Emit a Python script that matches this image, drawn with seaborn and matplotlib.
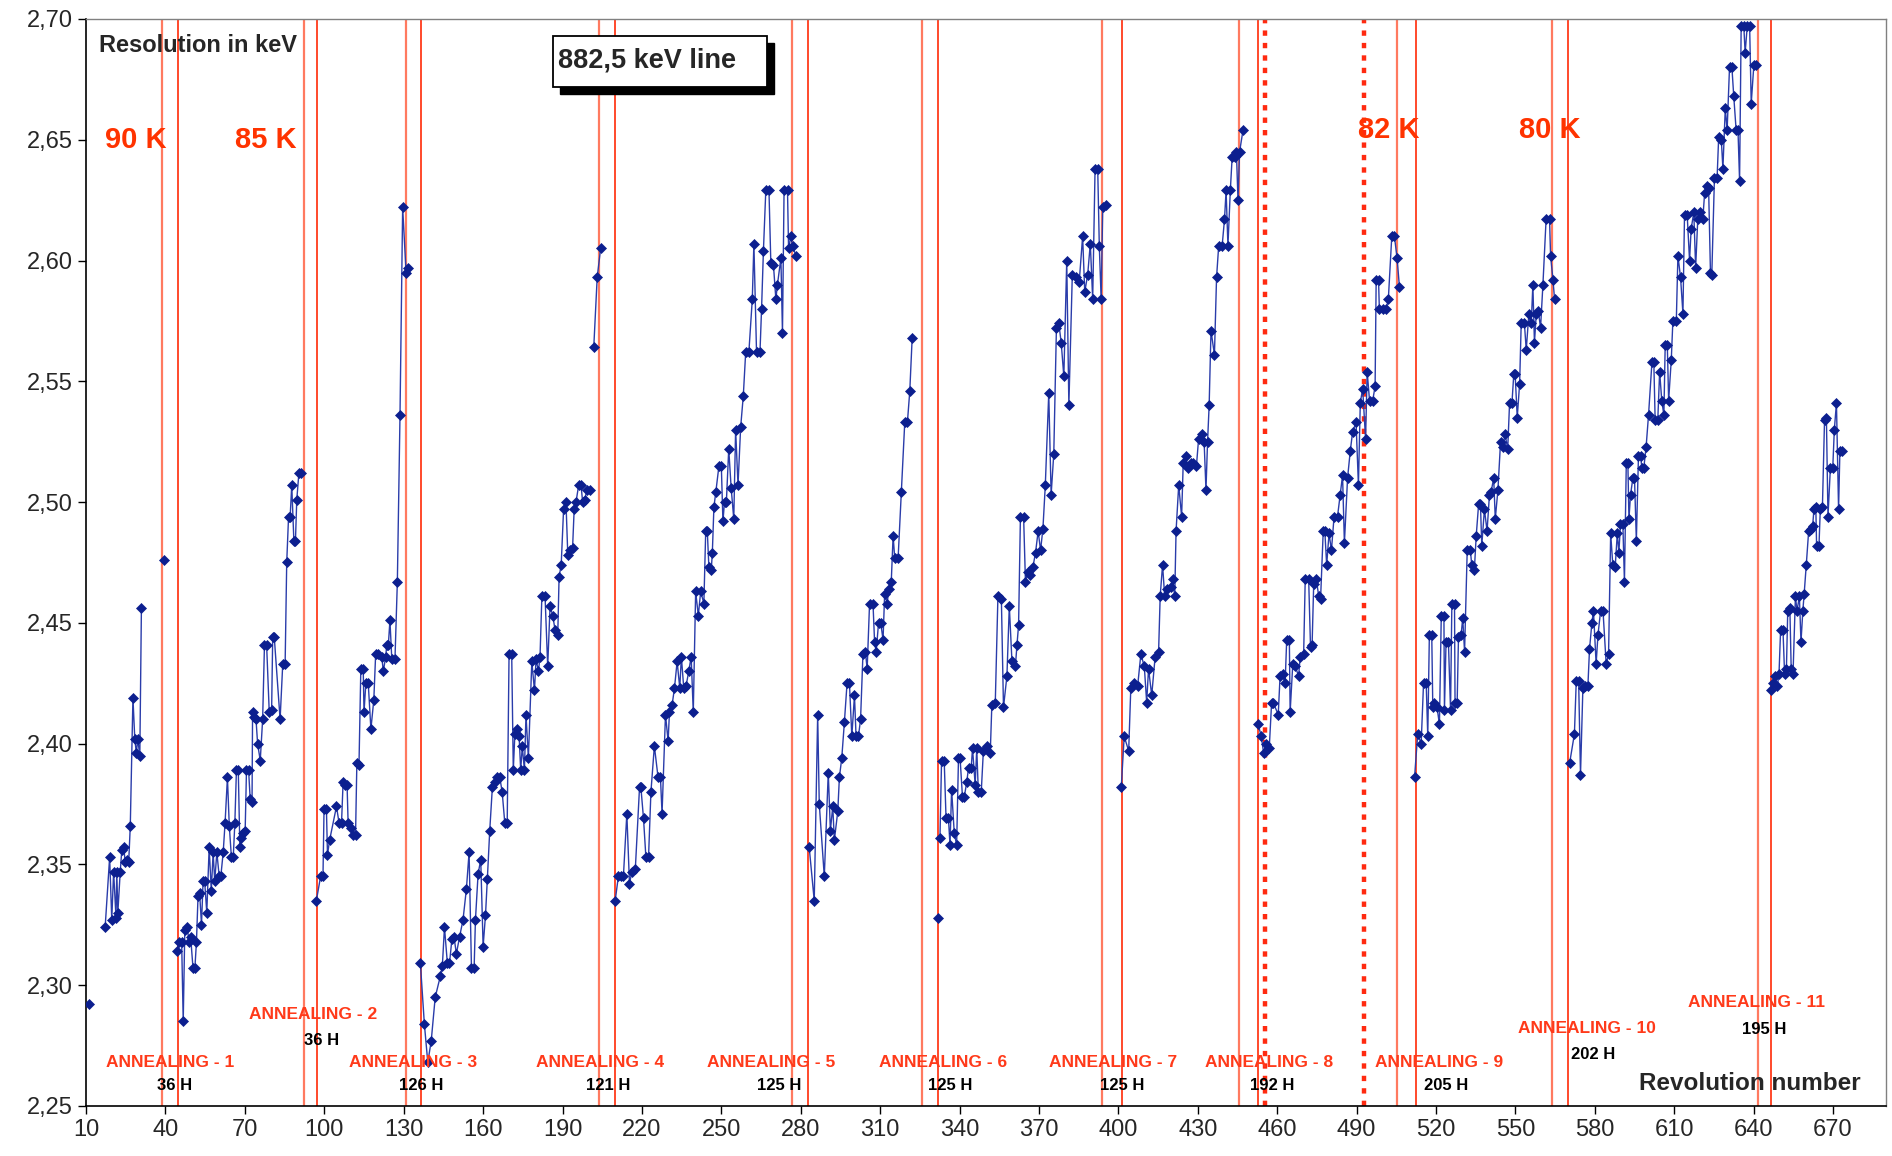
import numpy as np
import pandas as pd
import matplotlib
matplotlib.use("Agg")
import matplotlib.pyplot as plt
from matplotlib.patches import Rectangle
from matplotlib.ticker import FuncFormatter
import seaborn as sns

# ================= DATA =================
# revolution number / resolution (keV), one list pair per unbroken run
s00_rev = [11.0]
s00_res = [2.292]

s01_rev = [17.2, 18.9, 19.7, 20.4, 21.3, 21.6, 22.0, 22.9, 23.5, 24.2, 24.8, 25.4, 26.1, 26.7,
           27.7, 28.4, 29.0, 29.5, 30.3, 30.9]
s01_res = [2.324, 2.353, 2.327, 2.347, 2.328, 2.347, 2.330, 2.347, 2.356, 2.357, 2.351, 2.352, 2.351, 2.366,
           2.419, 2.402, 2.396, 2.402, 2.395, 2.456]

s01b_rev = [39.3]
s01b_res = [2.476]

s02_rev = [44.4, 45.2, 46.1, 46.7, 47.3, 48.2, 48.9, 49.5, 50.4, 51.1, 51.7, 52.3, 52.9, 53.6, 54.2,
           54.8, 55.6, 56.5, 57.3, 58.0, 58.6, 59.4, 60.3, 60.9, 61.8, 62.5, 63.4, 64.1, 64.9, 65.6,
           66.2, 66.8, 67.5, 68.1, 68.7, 69.4, 70.1, 70.6, 71.4, 72.0, 72.7, 72.9, 73.6, 74.2, 74.8,
           75.8, 76.7, 77.4, 78.2, 79.2, 80.1, 80.5, 81.1, 83.3, 84.3, 85.2, 85.8, 86.5, 87.1, 87.7,
           88.5, 89.1, 89.6, 90.4, 91.3]
s02_res = [2.314, 2.318, 2.318, 2.285, 2.323, 2.324, 2.318, 2.320, 2.307, 2.307, 2.318, 2.337, 2.338, 2.325, 2.343,
           2.343, 2.330, 2.357, 2.339, 2.355, 2.343, 2.355, 2.345, 2.345, 2.355, 2.367, 2.386, 2.366, 2.353, 2.353,
           2.367, 2.389, 2.389, 2.357, 2.361, 2.363, 2.364, 2.389, 2.389, 2.377, 2.376, 2.413, 2.411, 2.410, 2.400,
           2.393, 2.410, 2.441, 2.441, 2.413, 2.414, 2.444, 2.444, 2.410, 2.433, 2.433, 2.475, 2.494, 2.494, 2.507,
           2.484, 2.484, 2.501, 2.512, 2.512]

s03_rev = [97.0, 98.6, 99.5, 99.9, 100.8, 101.2, 102.0, 104.6, 105.6, 106.5, 107.1, 107.7, 108.6, 109.0,
           110.0, 110.9, 111.8, 112.3, 113.1, 113.8, 114.7, 115.0, 115.7, 116.6, 117.6, 118.7, 119.4, 120.4,
           121.7, 122.3, 123.2, 123.6, 124.2, 124.8, 125.5, 126.7, 127.6, 128.6, 129.6, 130.9, 131.8]
s03_res = [2.335, 2.345, 2.345, 2.373, 2.373, 2.354, 2.360, 2.374, 2.367, 2.367, 2.384, 2.383, 2.383, 2.367,
           2.365, 2.362, 2.362, 2.392, 2.391, 2.431, 2.431, 2.413, 2.425, 2.425, 2.406, 2.418, 2.437, 2.437,
           2.436, 2.430, 2.436, 2.441, 2.441, 2.451, 2.435, 2.435, 2.467, 2.536, 2.622, 2.595, 2.597]

s04_rev = [136.3, 137.8, 139.1, 140.4, 141.9, 143.9, 144.6, 145.4, 146.5, 147.3, 148.2, 149.0, 149.9, 151.1,
           152.4, 153.7, 154.7, 155.6, 156.6, 157.1, 158.1, 159.1, 160.0, 160.9, 161.6, 162.5, 163.5, 164.4,
           165.4, 166.3, 167.2, 168.2, 169.1, 169.8, 170.8, 171.4, 172.0, 172.7, 173.6, 174.2, 174.8, 175.6,
           176.2, 177.1, 178.4, 179.4, 180.0, 180.9, 181.5, 182.2, 183.4, 184.4, 185.3, 186.3, 187.2, 188.2,
           188.7, 189.5, 190.4, 191.3, 192.0, 192.9, 193.8, 194.4, 195.1, 196.1, 197.0, 197.6, 198.4, 199.2,
           200.5]
s04_res = [2.309, 2.284, 2.268, 2.277, 2.295, 2.304, 2.308, 2.324, 2.309, 2.309, 2.319, 2.320, 2.313, 2.320,
           2.327, 2.340, 2.355, 2.307, 2.307, 2.327, 2.346, 2.352, 2.316, 2.329, 2.344, 2.364, 2.382, 2.384,
           2.386, 2.386, 2.380, 2.367, 2.367, 2.437, 2.437, 2.389, 2.404, 2.406, 2.403, 2.389, 2.399, 2.389,
           2.412, 2.394, 2.434, 2.422, 2.435, 2.430, 2.436, 2.461, 2.461, 2.432, 2.457, 2.453, 2.447, 2.445,
           2.469, 2.474, 2.497, 2.500, 2.478, 2.480, 2.481, 2.497, 2.500, 2.507, 2.507, 2.500, 2.501, 2.505,
           2.505]

s04b_rev = [201.8, 203.1, 204.4]
s04b_res = [2.564, 2.593, 2.605]

s05_rev = [209.9, 211.1, 212.0, 213.0, 214.3, 215.3, 216.2, 217.5, 219.1, 219.6, 220.6, 221.5, 222.5, 223.4,
           224.7, 226.1, 227.0, 227.6, 228.9, 229.9, 230.4, 231.4, 232.3, 233.3, 234.3, 234.9, 235.8, 236.7,
           237.7, 238.6, 239.4, 240.3, 241.3, 242.2, 243.4, 244.1, 244.7, 245.3, 246.2, 246.6, 247.2, 247.9,
           249.1, 250.0, 250.6, 251.2, 251.9, 252.8, 253.7, 254.7, 255.4, 256.3, 257.3, 258.3, 259.2, 260.4,
           261.7, 262.3, 263.3, 264.6, 265.2, 265.9, 266.8, 268.0, 268.7, 269.7, 270.6, 271.2, 272.5, 273.1,
           273.7, 275.0, 275.4, 276.3, 276.9, 278.2]
s05_res = [2.335, 2.345, 2.345, 2.345, 2.371, 2.342, 2.347, 2.348, 2.382, 2.382, 2.369, 2.353, 2.353, 2.380,
           2.399, 2.386, 2.386, 2.371, 2.412, 2.401, 2.413, 2.416, 2.423, 2.434, 2.423, 2.436, 2.423, 2.424,
           2.430, 2.436, 2.413, 2.463, 2.453, 2.463, 2.458, 2.488, 2.488, 2.473, 2.472, 2.479, 2.498, 2.504,
           2.515, 2.515, 2.492, 2.500, 2.500, 2.522, 2.506, 2.493, 2.530, 2.507, 2.531, 2.544, 2.562, 2.562,
           2.584, 2.607, 2.562, 2.562, 2.580, 2.604, 2.629, 2.629, 2.599, 2.598, 2.584, 2.590, 2.601, 2.570,
           2.629, 2.629, 2.605, 2.610, 2.606, 2.602]

s06_rev = [283.2, 285.1, 286.4, 287.0, 288.9, 290.4, 291.2, 292.1, 292.7, 294.0, 294.6, 295.5, 296.5, 297.5,
           298.4, 299.3, 300.3, 300.9, 301.8, 302.6, 303.5, 304.4, 305.1, 306.0, 307.3, 307.9, 308.5, 309.4,
           310.2, 311.1, 311.7, 312.7, 313.2, 314.2, 314.9, 315.5, 316.8, 318.0, 319.3, 320.3, 321.2, 322.1]
s06_res = [2.357, 2.335, 2.412, 2.375, 2.345, 2.388, 2.364, 2.374, 2.360, 2.372, 2.386, 2.394, 2.409, 2.425,
           2.425, 2.403, 2.420, 2.403, 2.403, 2.410, 2.437, 2.438, 2.431, 2.458, 2.458, 2.442, 2.438, 2.450,
           2.450, 2.443, 2.462, 2.458, 2.464, 2.467, 2.486, 2.477, 2.477, 2.504, 2.533, 2.533, 2.546, 2.568]

s07a_rev = [332.0]
s07a_res = [2.328]

s07_rev = [332.6, 333.2, 334.2, 334.9, 335.8, 336.4, 337.0, 338.0, 338.9, 339.6, 340.2, 341.1, 341.8, 342.7,
           343.4, 344.4, 344.9, 345.9, 346.5, 347.1, 348.2, 349.0, 350.3, 351.6, 352.2, 353.5, 354.5, 355.8,
           356.6, 357.9, 358.8, 359.8, 361.1, 361.7, 362.3, 363.0, 364.2, 364.9, 365.9, 366.8, 367.7, 368.7,
           369.7, 370.6, 371.5, 372.4, 373.7, 374.6, 375.6, 376.6, 377.5, 378.4, 379.4, 380.5, 381.3, 382.6,
           383.9, 385.2, 386.5, 387.3, 388.4, 389.4, 390.3, 391.2, 392.2, 392.8, 393.5, 394.1, 395.4]
s07_res = [2.361, 2.393, 2.393, 2.369, 2.369, 2.358, 2.381, 2.363, 2.358, 2.394, 2.394, 2.378, 2.378, 2.384,
           2.390, 2.390, 2.398, 2.383, 2.398, 2.380, 2.380, 2.397, 2.399, 2.396, 2.416, 2.417, 2.461, 2.460,
           2.415, 2.428, 2.457, 2.434, 2.432, 2.441, 2.449, 2.494, 2.494, 2.467, 2.471, 2.470, 2.473, 2.479,
           2.488, 2.480, 2.489, 2.507, 2.545, 2.503, 2.520, 2.572, 2.574, 2.566, 2.552, 2.600, 2.540, 2.594,
           2.593, 2.591, 2.610, 2.587, 2.594, 2.607, 2.584, 2.638, 2.638, 2.606, 2.584, 2.622, 2.623]

s08_rev = [401.1, 402.2, 403.9, 404.7, 406.0, 407.3, 408.5, 409.8, 410.7, 411.4, 412.6, 413.9, 415.2, 415.8,
           416.7, 417.5, 418.4, 419.7, 420.5, 421.3, 421.8, 422.8, 423.9, 424.5, 425.4, 426.4, 427.3, 428.2,
           429.5, 430.3, 431.5, 432.4, 433.1, 433.7, 434.3, 435.0, 436.3, 437.1, 437.9, 439.2, 440.1, 440.7,
           441.4, 442.3, 443.0, 443.9, 444.6, 445.2, 445.8, 447.1]
s08_res = [2.382, 2.403, 2.397, 2.423, 2.425, 2.424, 2.437, 2.432, 2.417, 2.431, 2.420, 2.436, 2.438, 2.461,
           2.474, 2.461, 2.464, 2.465, 2.468, 2.461, 2.488, 2.507, 2.494, 2.516, 2.519, 2.514, 2.516, 2.516,
           2.515, 2.526, 2.528, 2.525, 2.505, 2.525, 2.540, 2.571, 2.561, 2.593, 2.606, 2.606, 2.617, 2.629,
           2.606, 2.629, 2.643, 2.643, 2.645, 2.625, 2.645, 2.654]

s09_rev = [452.8, 454.0, 454.9, 455.7, 457.0, 457.9, 458.5, 460.4, 461.1, 462.1, 463.0, 463.6, 464.6, 464.9,
           465.9, 466.8, 468.1, 468.7, 470.0, 470.6, 471.9, 472.6, 473.2, 473.8, 474.8, 475.7, 476.4, 477.4,
           478.0, 478.7, 479.6, 480.5, 481.5, 482.8, 483.8, 484.7, 485.4, 486.6, 487.6, 488.5, 489.8, 490.7,
           491.4, 492.3, 493.4, 494.0, 494.9, 496.1, 497.0, 497.4, 498.3, 498.6, 499.9, 501.2, 502.0, 503.3,
           504.3, 505.3, 506.2]
s09_res = [2.408, 2.403, 2.396, 2.400, 2.398, 2.417, 2.417, 2.412, 2.428, 2.429, 2.425, 2.443, 2.443, 2.413,
           2.433, 2.432, 2.428, 2.436, 2.437, 2.468, 2.468, 2.440, 2.441, 2.466, 2.468, 2.461, 2.460, 2.488,
           2.488, 2.474, 2.487, 2.480, 2.494, 2.494, 2.503, 2.511, 2.483, 2.510, 2.521, 2.529, 2.533, 2.507,
           2.541, 2.547, 2.526, 2.554, 2.542, 2.542, 2.548, 2.592, 2.592, 2.580, 2.580, 2.580, 2.584, 2.610,
           2.610, 2.601, 2.589]

s10_rev = [511.9, 513.1, 514.4, 515.3, 516.3, 516.9, 517.5, 518.4, 518.8, 519.4, 520.4, 521.3, 522.0, 523.0,
           523.2, 523.8, 524.7, 525.5, 526.0, 527.0, 527.2, 528.0, 528.5, 529.5, 530.1, 530.8, 531.8, 533.0,
           533.5, 534.5, 535.2, 536.1, 536.8, 537.3, 538.3, 539.3, 540.2, 540.8, 541.8, 542.4, 543.4, 544.4,
           545.3, 546.1, 547.1, 547.8, 548.7, 549.4, 549.9, 550.7, 551.6, 552.2, 553.4, 554.1, 555.1, 556.0,
           556.6, 557.2, 557.9, 558.7, 559.5, 560.4, 561.6, 562.9, 563.3, 564.2, 564.8]
s10_res = [2.386, 2.404, 2.400, 2.425, 2.425, 2.403, 2.445, 2.445, 2.415, 2.417, 2.415, 2.408, 2.453, 2.453,
           2.414, 2.442, 2.442, 2.414, 2.458, 2.458, 2.417, 2.417, 2.444, 2.445, 2.452, 2.438, 2.480, 2.480,
           2.474, 2.472, 2.486, 2.499, 2.499, 2.482, 2.497, 2.488, 2.503, 2.504, 2.510, 2.493, 2.505, 2.525,
           2.523, 2.528, 2.522, 2.541, 2.541, 2.553, 2.553, 2.535, 2.549, 2.574, 2.574, 2.563, 2.578, 2.574,
           2.590, 2.566, 2.578, 2.579, 2.572, 2.590, 2.617, 2.617, 2.602, 2.592, 2.584]

s11_rev = [570.5, 572.3, 573.0, 573.9, 574.6, 575.5, 576.4, 577.4, 578.0, 578.9, 579.5, 580.5, 581.2, 582.2,
           583.1, 584.3, 585.2, 586.0, 586.8, 587.7, 588.5, 589.1, 589.7, 590.6, 591.2, 591.9, 592.5, 592.9,
           593.5, 594.4, 595.0, 595.7, 596.5, 597.3, 597.8, 598.5, 599.4, 600.3, 601.6, 602.3, 602.8, 603.8,
           604.5, 605.3, 606.1, 606.6, 607.4, 607.9, 608.9, 609.5, 610.8, 611.4, 612.4, 613.3, 613.9, 614.9,
           615.8, 616.4, 617.4, 618.1, 618.9, 619.9, 620.8, 621.5, 622.5, 623.0, 623.7, 624.2, 625.2, 626.2,
           626.8, 627.8, 628.4, 629.3, 630.0, 630.9, 631.8, 632.5, 633.4, 634.1, 634.7, 635.3, 636.3, 636.8,
           637.6, 638.5, 639.1, 640.1, 641.0]
s11_res = [2.392, 2.404, 2.426, 2.426, 2.387, 2.423, 2.424, 2.424, 2.439, 2.450, 2.455, 2.433, 2.445, 2.455,
           2.455, 2.433, 2.437, 2.487, 2.474, 2.473, 2.487, 2.479, 2.491, 2.491, 2.467, 2.516, 2.516, 2.493,
           2.503, 2.510, 2.510, 2.484, 2.519, 2.519, 2.514, 2.514, 2.523, 2.536, 2.558, 2.558, 2.534, 2.534,
           2.554, 2.542, 2.536, 2.565, 2.565, 2.542, 2.559, 2.575, 2.575, 2.602, 2.593, 2.578, 2.619, 2.619,
           2.600, 2.613, 2.620, 2.597, 2.617, 2.620, 2.617, 2.628, 2.631, 2.630, 2.595, 2.594, 2.634, 2.634,
           2.651, 2.650, 2.638, 2.663, 2.654, 2.680, 2.680, 2.668, 2.654, 2.654, 2.633, 2.697, 2.697, 2.686,
           2.697, 2.697, 2.665, 2.681, 2.681]

s12_rev = [646.5, 647.5, 648.0, 649.0, 649.6, 650.2, 651.1, 651.7, 652.4, 652.9, 653.7, 654.2, 654.9, 655.8,
           656.4, 657.3, 657.9, 658.6, 659.1, 659.9, 660.8, 661.6, 662.3, 662.8, 663.5, 663.8, 664.7, 665.2,
           666.0, 666.8, 667.5, 668.1, 669.0, 669.9, 670.5, 671.3, 672.1, 672.6, 673.4]
s12_res = [2.422, 2.425, 2.428, 2.424, 2.429, 2.447, 2.447, 2.429, 2.431, 2.455, 2.456, 2.431, 2.429, 2.461,
           2.455, 2.461, 2.442, 2.455, 2.462, 2.474, 2.488, 2.489, 2.490, 2.497, 2.498, 2.482, 2.482, 2.497,
           2.498, 2.534, 2.535, 2.494, 2.514, 2.514, 2.530, 2.541, 2.497, 2.521, 2.521]

segments = [
    (s00_rev, s00_res), (s01_rev, s01_res), (s01b_rev, s01b_res), (s02_rev, s02_res),
    (s03_rev, s03_res), (s04_rev, s04_res), (s04b_rev, s04b_res), (s05_rev, s05_res),
    (s06_rev, s06_res), (s07a_rev, s07a_res), (s07_rev, s07_res), (s08_rev, s08_res),
    (s09_rev, s09_res), (s10_rev, s10_res), (s11_rev, s11_res), (s12_rev, s12_res),
]

# annealing periods (start / end revolution), labels and durations
anneal_start = [38.8, 92.5, 130.7, 203.8, 276.8, 325.8, 394.0, 445.5, 505.3, 563.9, 641.6]
anneal_end = [44.6, 97.3, 136.7, 209.7, 282.7, 331.7, 401.2, 452.6, 512.5, 569.8, 646.4]
anneal_names = ["ANNEALING - %d" % i for i in range(1, 12)]
anneal_hours = ["36 H", "36 H", "126 H", "121 H", "125 H", "125 H", "125 H",
                "192 H", "205 H", "202 H", "195 H"]
temp_change = [455.4, 492.7]   # dotted lines
temp_labels = ["90 K", "85 K", "82 K", "80 K"]

x_ticks = list(range(10, 671, 30))
y_ticks = [2.25, 2.30, 2.35, 2.40, 2.45, 2.50, 2.55, 2.60, 2.65, 2.70]

# ================= PLOT =================
rows = []
for k, (rv, rs) in enumerate(segments):
    for a, b in zip(rv, rs):
        rows.append({"rev": a, "res": b, "seg": k})
df = pd.DataFrame(rows)

sns.set_style("white")
plt.rcParams["font.family"] = ["Liberation Sans", "DejaVu Sans"]

fig = plt.figure(figsize=(18.92, 11.56), dpi=100)
ax = fig.add_axes([0.0455, 0.0433, 0.9513, 0.9403])

RED = "#ff3a1a"
BLUE = "#0c1f8f"

for xs, xe in zip(anneal_start, anneal_end):
    ax.axvline(xs, color="#ff7a60", lw=1.6, zorder=1)
    ax.axvline(xe, color=RED, lw=1.3, zorder=1)
for xd in temp_change:
    ax.axvline(xd, color="#ff2a10", lw=3.2, ls=(0, (1.2, 1.6)), zorder=1)

sns.lineplot(data=df, x="rev", y="res", units="seg", estimator=None, sort=True,
             color="#2a3caa", lw=1.0, marker="D", markersize=5,
             markerfacecolor=BLUE, markeredgecolor=BLUE, markeredgewidth=0.5,
             ax=ax, zorder=3, legend=False)

ax.set_xlim(10, 690)
ax.set_ylim(2.25, 2.70)
ax.set_xticks(x_ticks)
ax.set_yticks(y_ticks)
ax.yaxis.set_major_formatter(FuncFormatter(lambda v, p: ("%.2f" % v).replace(".", ",")))
ax.tick_params(axis="both", direction="out", length=6, width=1, labelsize=17, color="black",
               left=True, bottom=True)
ax.set_xlabel("")
ax.set_ylabel("")
for side in ["left", "bottom"]:
    ax.spines[side].set_color("black")
    ax.spines[side].set_linewidth(1.2)
for side in ["top", "right"]:
    ax.spines[side].set_color("#808080")
    ax.spines[side].set_linewidth(1.0)

# annealing labels
name_pos = [(41.8, 2.268), (95.6, 2.288), (133.4, 2.268), (204.2, 2.268), (269.0, 2.268),
            (333.8, 2.268), (398.1, 2.268), (456.9, 2.268), (521.2, 2.268), (576.9, 2.282),
            (641.2, 2.293)]
hour_pos = [(43.6, 2.2585), (98.8, 2.277), (136.7, 2.2585), (207.4, 2.2585), (271.7, 2.2585),
            (336.5, 2.2585), (401.3, 2.2585), (458.3, 2.2585), (524.0, 2.2585), (579.2, 2.2713),
            (643.9, 2.2818)]
for name, (x, y) in zip(anneal_names, name_pos):
    ax.text(x, y, name, color=RED, fontsize=12.5, fontweight="bold", ha="center", va="center", zorder=5)
for hrs, (x, y) in zip(anneal_hours, hour_pos):
    ax.text(x, y, hrs, color="black", fontsize=12, fontweight="bold", ha="center", va="center", zorder=5)

temp_pos = [(17.2, 2.650), (66.4, 2.650), (490.7, 2.654), (551.3, 2.654)]
for lab, (x, y) in zip(temp_labels, temp_pos):
    ax.text(x, y, lab, color="#ff3300", fontsize=21, fontweight="bold", ha="left", va="center", zorder=5)

ax.text(14.9, 2.689, "Resolution in keV", fontsize=17, fontweight="bold", ha="left", va="center")
ax.text(638.5, 2.2593, "Revolution number", fontsize=17.5, fontweight="bold", ha="center", va="center")

# boxed line label with shadow
bx, by, bw, bh = 0.2594, 0.9374, 0.1189, 0.0470
ax.add_patch(Rectangle((bx + 0.0040, by - 0.0066), bw, bh, transform=ax.transAxes,
                       facecolor="black", edgecolor="black", zorder=6))
ax.add_patch(Rectangle((bx, by), bw, bh, transform=ax.transAxes,
                       facecolor="white", edgecolor="black", lw=1.3, zorder=7))
ax.text(188.2, 2.683, "882,5 keV line", fontsize=19.5, fontweight="bold", ha="left", va="center", zorder=8)

fig.savefig("out.png", dpi=100)
